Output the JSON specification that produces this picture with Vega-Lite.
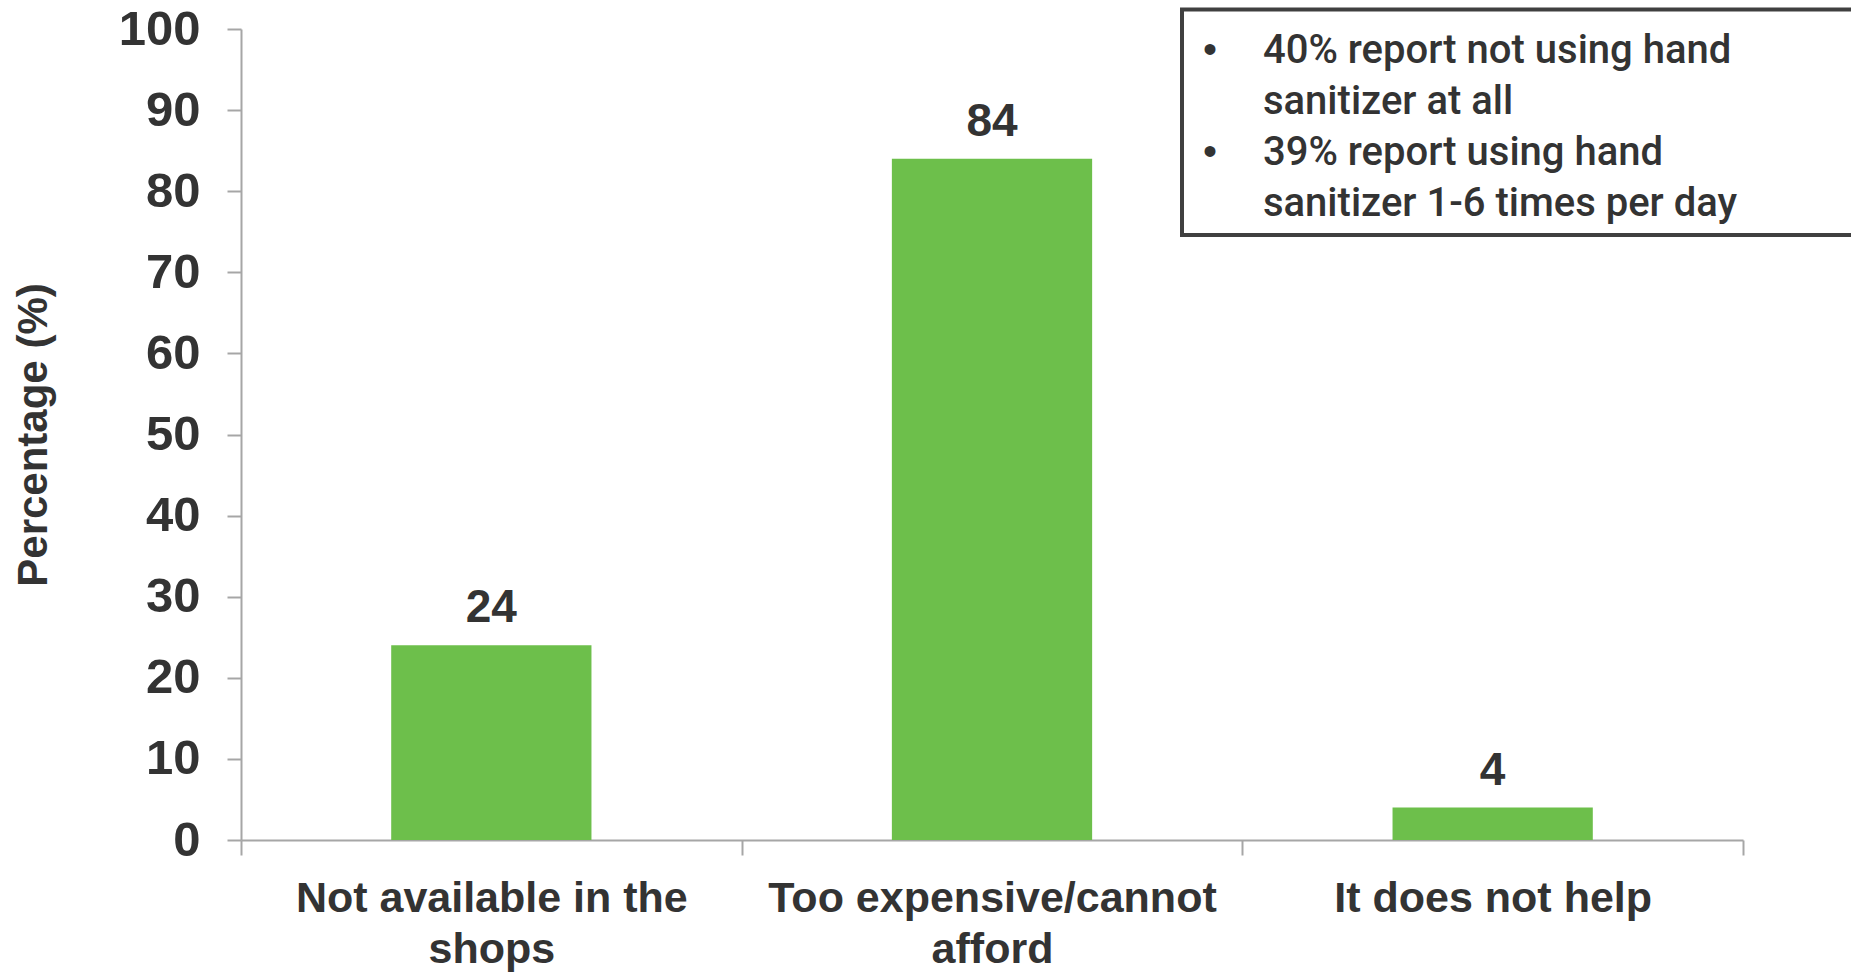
{
  "$schema": "https://vega.github.io/schema/vega-lite/v6.json",
  "width": 1502,
  "height": 811,
  "autosize": {"type": "none"},
  "padding": {"left": 241, "top": 29, "right": 108, "bottom": 136},
  "background": "white",
  "config": {
    "view": {"stroke": null},
    "font": "Liberation Sans"
  },
  "layer": [
    {
      "data": {
        "values": [
          {"reason": "Not available in the shops", "pct": 24},
          {"reason": "Too expensive/cannot afford", "pct": 84},
          {"reason": "It does not help", "pct": 4}
        ]
      },
      "encoding": {
        "x": {
          "field": "reason",
          "type": "nominal",
          "sort": null,
          "scale": {"paddingInner": 0, "paddingOuter": 0},
          "axis": {
            "title": null,
            "labelAngle": 0,
            "tickBand": "extent",
            "domainColor": "#a6a6a6",
            "domainWidth": 2,
            "tickColor": "#a6a6a6",
            "tickWidth": 2,
            "tickSize": 15,
            "labelFont": "Liberation Sans",
            "labelFontSize": 43,
            "labelFontWeight": "bold",
            "labelColor": "#333333",
            "labelPadding": 22,
            "labelLineHeight": 51,
            "labelLimit": 1000,
            "labelExpr": "datum.label == 'Not available in the shops' ? ['Not available in the', 'shops'] : datum.label == 'Too expensive/cannot afford' ? ['Too expensive/cannot', 'afford'] : datum.label"
          }
        },
        "y": {
          "field": "pct",
          "type": "quantitative",
          "scale": {"domain": [0, 100], "nice": false},
          "axis": {
            "title": "Percentage (%)",
            "values": [0, 10, 20, 30, 40, 50, 60, 70, 80, 90, 100],
            "grid": false,
            "domainColor": "#a6a6a6",
            "domainWidth": 2,
            "tickColor": "#a6a6a6",
            "tickWidth": 2,
            "tickSize": 14,
            "labelFont": "Liberation Sans",
            "labelFontSize": 49,
            "labelFontWeight": "bold",
            "labelColor": "#333333",
            "labelPadding": 27,
            "titleFont": "Liberation Sans",
            "titleFontSize": 42,
            "titleFontWeight": "bold",
            "titleColor": "#333333",
            "titlePadding": 63
          }
        }
      },
      "layer": [
        {
          "mark": {"type": "bar", "color": "#6dbf4b", "width": {"band": 0.4}}
        },
        {
          "mark": {
            "type": "text",
            "font": "Liberation Sans",
            "fontSize": 46,
            "fontWeight": "bold",
            "color": "#333333",
            "baseline": "alphabetic",
            "dy": -23
          },
          "encoding": {"text": {"field": "pct", "type": "quantitative"}}
        }
      ]
    },
    {
      "data": {
        "values": [
          {
            "bullet": "•",
            "notes": "40% report not using hand\nsanitizer at all\n39% report using hand\nsanitizer 1-6 times per day"
          }
        ]
      },
      "layer": [
        {
          "mark": {"type": "rect", "fill": "white", "stroke": "#404040", "strokeWidth": 4},
          "encoding": {
            "x": {"datum": 0.6265, "type": "quantitative", "scale": {"domain": [0, 1], "nice": false, "zero": false}, "axis": null},
            "x2": {"datum": 1.3},
            "y": {"datum": 102.4, "type": "quantitative", "scale": {"domain": [0, 100], "nice": false}, "axis": null},
            "y2": {"datum": 74.6}
          }
        },
        {
          "mark": {
            "type": "text",
            "align": "center",
            "baseline": "alphabetic",
            "font": "Liberation Sans",
            "fontSize": 40,
            "color": "#333333"
          },
          "encoding": {
            "x": {"datum": 0.6451, "type": "quantitative", "scale": {"domain": [0, 1], "nice": false, "zero": false}, "axis": null},
            "y": {"datum": 95.8, "type": "quantitative", "scale": {"domain": [0, 100], "nice": false}, "axis": null},
            "text": {"field": "bullet"}
          }
        },
        {
          "mark": {
            "type": "text",
            "align": "center",
            "baseline": "alphabetic",
            "font": "Liberation Sans",
            "fontSize": 40,
            "color": "#333333"
          },
          "encoding": {
            "x": {"datum": 0.6451, "type": "quantitative", "scale": {"domain": [0, 1], "nice": false, "zero": false}, "axis": null},
            "y": {"datum": 83.2, "type": "quantitative", "scale": {"domain": [0, 100], "nice": false}, "axis": null},
            "text": {"field": "bullet"}
          }
        },
        {
          "mark": {
            "type": "text",
            "align": "left",
            "baseline": "alphabetic",
            "lineBreak": "\n",
            "lineHeight": 51,
            "font": "Roboto",
            "fontWeight": 500,
            "fontSize": 40,
            "color": "#333333"
          },
          "encoding": {
            "x": {"datum": 0.6804, "type": "quantitative", "scale": {"domain": [0, 1], "nice": false, "zero": false}, "axis": null},
            "y": {"datum": 95.8, "type": "quantitative", "scale": {"domain": [0, 100], "nice": false}, "axis": null},
            "text": {"field": "notes"}
          }
        }
      ]
    }
  ],
  "resolve": {"scale": {"x": "independent", "y": "independent"}}
}
